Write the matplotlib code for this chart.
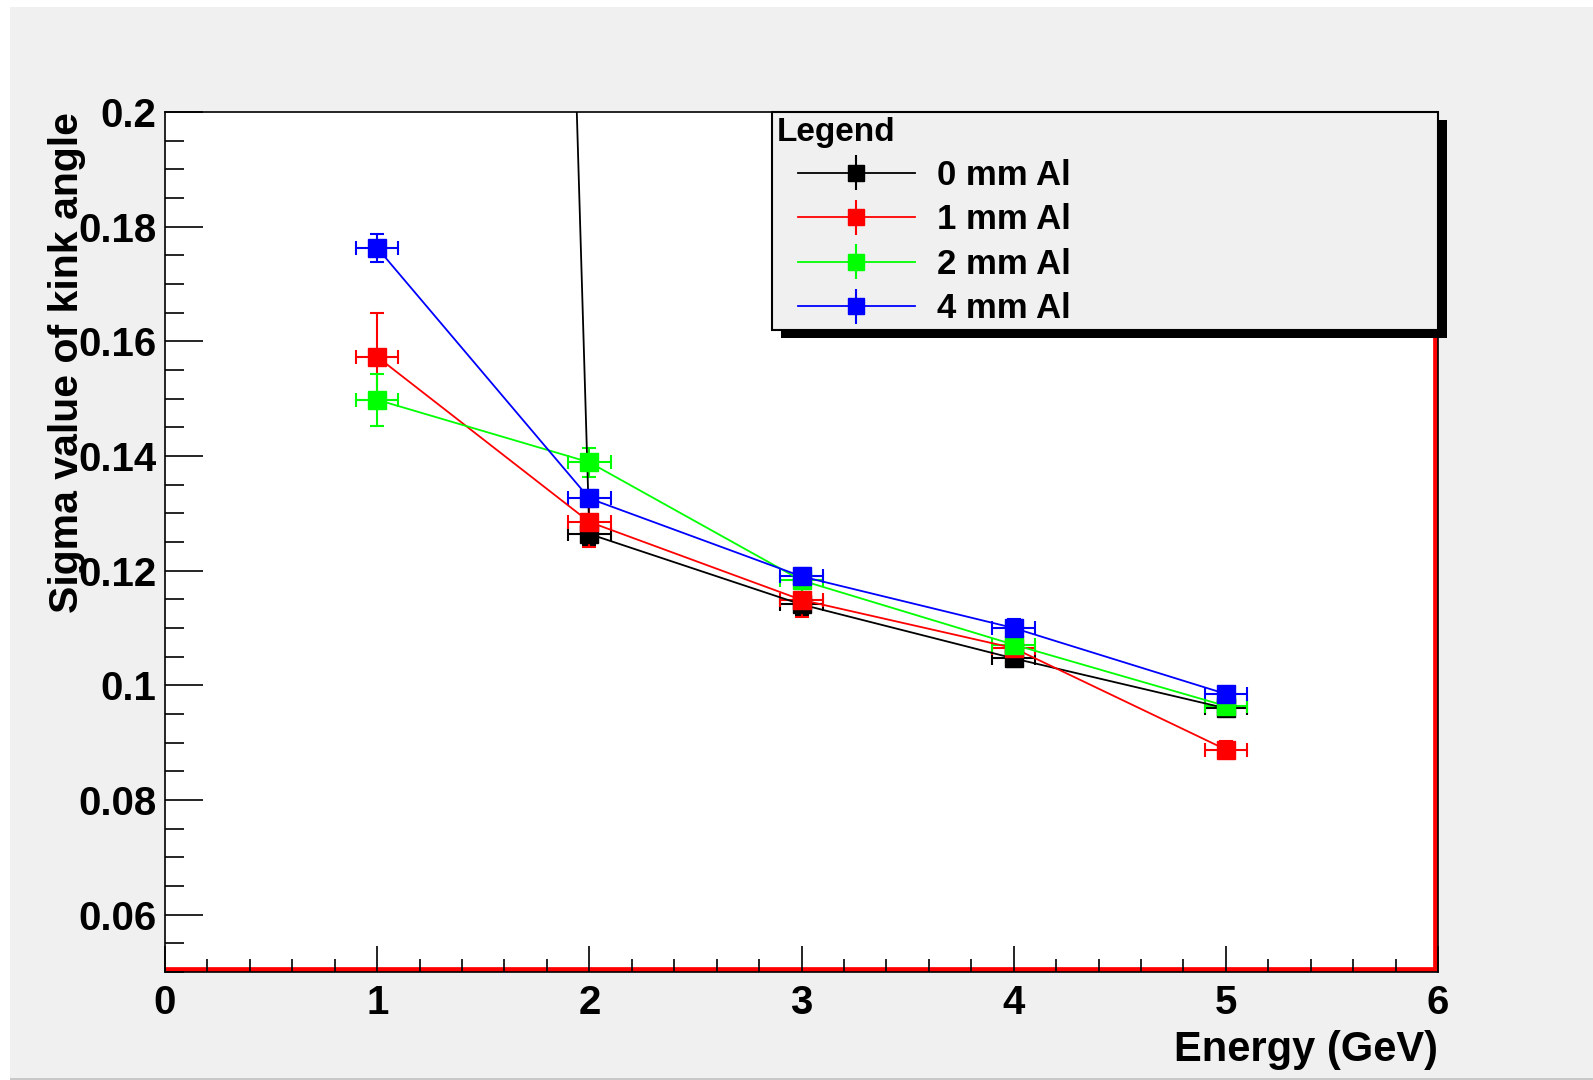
import numpy as np
import matplotlib
matplotlib.use('Agg')
import matplotlib.pyplot as plt
from matplotlib.patches import Rectangle
from matplotlib.ticker import MultipleLocator, FuncFormatter
from matplotlib.transforms import IdentityTransform
from matplotlib.legend_handler import HandlerErrorbar
from matplotlib.container import ErrorbarContainer

plt.rcParams['font.family'] = ['Liberation Sans', 'DejaVu Sans']
plt.rcParams['font.weight'] = 'bold'

# Daten
energy = [1, 2, 3, 4, 5]
energy_err = [0.1, 0.1, 0.1, 0.1, 0.1]
labels = ['0 mm Al', '1 mm Al', '2 mm Al', '4 mm Al']
colors = ['#000000', '#ff0000', '#00ff00', '#0000ff']

sigma_0mm = [1.37, 0.1264, 0.1141, 0.1047, 0.0960]
err_0mm = [0.05, 0.0020, 0.0018, 0.0015, 0.0012]
sigma_1mm = [0.1573, 0.1285, 0.1149, 0.1065, 0.0888]
err_1mm = [0.0077, 0.0044, 0.0030, 0.0015, 0.0015]
sigma_2mm = [0.1498, 0.1389, 0.1183, 0.1071, 0.0964]
err_2mm = [0.0045, 0.0025, 0.0020, 0.0015, 0.0010]
sigma_4mm = [0.1763, 0.1326, 0.1190, 0.1100, 0.0985]
err_4mm = [0.0025, 0.0015, 0.0015, 0.0015, 0.0010]

series = [(sigma_0mm, err_0mm), (sigma_1mm, err_1mm), (sigma_2mm, err_2mm), (sigma_4mm, err_4mm)]

fig = plt.figure(figsize=(15.93, 10.8), dpi=100, facecolor='white')
# grauer Hintergrund wie im ROOT-Canvas
fig.patches.append(Rectangle((10 / 1593, 2 / 1080), 1.0, 1 - 9 / 1080, transform=fig.transFigure,
                             facecolor='#f0f0f0', edgecolor='none', zorder=-10))
fig.patches.append(Rectangle((10 / 1593, 0), 1.0, 2 / 1080, transform=fig.transFigure,
                             facecolor='#c8c8c8', edgecolor='none', zorder=-10))

ax = fig.add_axes([0.1036, 0.1, 0.7991, 0.7963])
ax.set_facecolor('white')

for (y, yerr), c in zip(series, colors):
    ax.errorbar(energy, y, xerr=energy_err, yerr=yerr, color=c, marker='s', markersize=13.5,
                linewidth=1.3, elinewidth=1.5, capsize=5, capthick=1.5)

# rote Rahmenlinien unten und rechts
ax.axhline(0.05, color='#ff0000', linewidth=7, zorder=1.5)
ax.axvline(6, color='#ff0000', linewidth=7, zorder=1.5)

ax.set_xlim(0, 6)
ax.set_ylim(0.05, 0.2)

ax.xaxis.set_major_locator(MultipleLocator(1))
ax.xaxis.set_minor_locator(MultipleLocator(0.2))
ax.yaxis.set_major_locator(MultipleLocator(0.02))
ax.yaxis.set_minor_locator(MultipleLocator(0.005))
ax.yaxis.set_major_formatter(FuncFormatter(lambda v, p: '%g' % round(v, 4)))

ax.tick_params(axis='both', which='both', direction='in', top=False, right=False,
               width=1.2, labelsize=29)
ax.tick_params(axis='y', which='major', length=27.5, pad=6)
ax.tick_params(axis='y', which='minor', length=14)
ax.tick_params(axis='x', which='major', length=18.5, pad=9)
ax.tick_params(axis='x', which='minor', length=9.4)
for s in ax.spines.values():
    s.set_linewidth(1.2)

ax.set_xlabel('Energy (GeV)', fontsize=30, fontweight='bold', loc='right')
ax.xaxis.set_label_coords(1.0, -0.067)
ax.set_ylabel('Sigma value of kink angle', fontsize=29.5, fontweight='bold', loc='top')
ax.yaxis.set_label_coords(-0.062, 1.0)

# Legende
proxies = [ax.errorbar([np.nan], [np.nan], yerr=[0.0], color=c, marker='s', markersize=12,
                       linewidth=1.3, elinewidth=1.5, capsize=0) for c in colors]
leg = ax.legend(proxies, labels, title='Legend', loc='upper left',
                bbox_to_anchor=(0.477, 0.0, 0.523, 1.0), mode='expand', borderaxespad=0,
                fontsize=25, title_fontproperties={'size': 24, 'weight': 'bold'},
                alignment='left', fancybox=False, edgecolor='black', facecolor='#f0f0f0',
                framealpha=1, handlelength=3.98, handletextpad=0.64, labelspacing=0.33,
                borderpad=0.13, prop={'size': 25, 'weight': 'bold'},
                handler_map={ErrorbarContainer: HandlerErrorbar(xpad=0.6)})
leg.get_frame().set_linewidth(1.5)
leg.set_zorder(6)

fig.canvas.draw()
bb = leg.get_window_extent()
ax.add_patch(Rectangle((bb.x0 + 9, bb.y0 - 8), bb.width, bb.height, transform=IdentityTransform(),
                       facecolor='black', edgecolor='none', clip_on=False, zorder=5.9))

fig.savefig('out.png', dpi=100, facecolor=fig.get_facecolor())
